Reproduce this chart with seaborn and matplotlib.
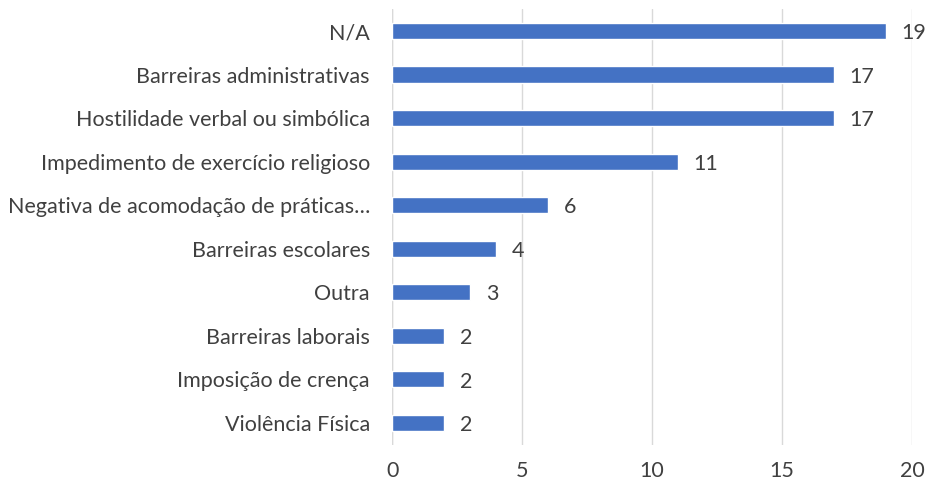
import matplotlib
matplotlib.use("Agg")
import matplotlib.pyplot as plt
import seaborn as sns
import pandas as pd

categories = [
    "N/A",
    "Barreiras administrativas",
    "Hostilidade verbal ou simbólica",
    "Impedimento de exercício religioso",
    "Negativa de acomodação de práticas…",
    "Barreiras escolares",
    "Outra",
    "Barreiras laborais",
    "Imposição de crença",
    "Violência Física",
]
values = [19, 17, 17, 11, 6, 4, 3, 2, 2, 2]
xticks = [0, 5, 10, 15, 20]

BAR_COLOR = "#4472C4"
TEXT_COLOR = "#404040"
FS = 15.5

sns.set_theme(style="white")
plt.rcParams["font.family"] = ["Lato", "DejaVu Sans"]

df = pd.DataFrame({"categoria": categories, "valor": values})

fig = plt.figure(figsize=(9.27, 4.86), dpi=100)
ax = fig.add_axes([0.423, 0.085, 0.561, 0.896])

sns.barplot(data=df, x="valor", y="categoria", color=BAR_COLOR,
            width=0.37, saturation=1, ax=ax)

for i, v in enumerate(values):
    ax.text(v + 0.6, i + 0.05, str(v), va="center", ha="left",
            fontsize=FS, color=TEXT_COLOR)

ax.set_xlim(0, 20)
ax.set_ylim(9.5, -0.5)
ax.set_xticks(xticks)
ax.set_xticklabels([str(t) for t in xticks])
ax.xaxis.grid(True, color="#D9D9D9", linewidth=1)
ax.set_axisbelow(True)
ax.axvline(0, color="#D9D9D9", linewidth=1, zorder=0)
for s in ax.spines.values():
    s.set_visible(False)
ax.set_xlabel("")
ax.set_ylabel("")
ax.tick_params(axis="both", length=0, labelsize=FS, colors=TEXT_COLOR)
ax.tick_params(axis="x", pad=12)
ax.tick_params(axis="y", pad=16)

fig.savefig("out.png", dpi=100)
